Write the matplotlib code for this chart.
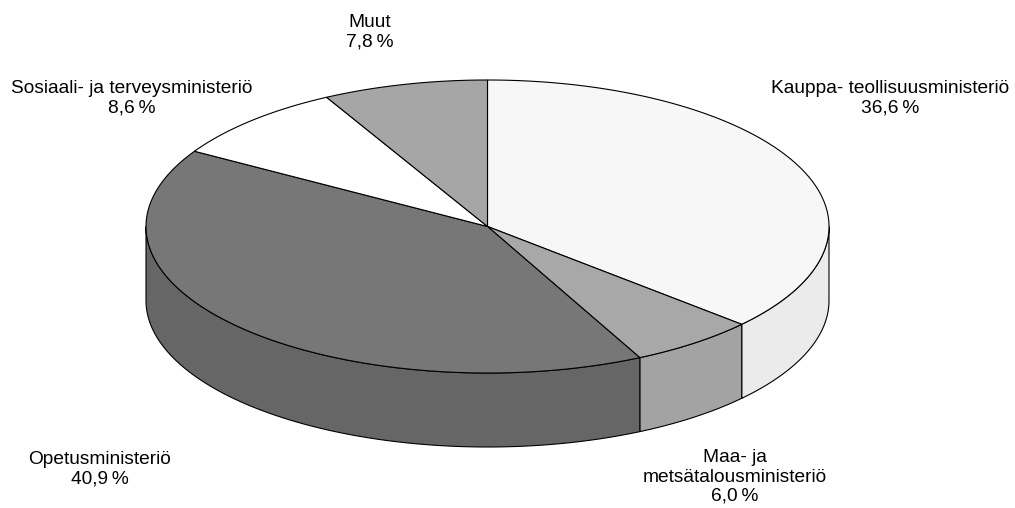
import numpy as np
import matplotlib.pyplot as plt
from matplotlib.patches import Polygon

plt.rcParams['font.family'] = ['Liberation Sans', 'DejaVu Sans']

# data
labels = ['Kauppa- teollisuusministeriö', 'Maa- ja\nmetsätalousministeriö', 'Opetusministeriö',
          'Sosiaali- ja terveysministeriö', 'Muut']
values = [36.6, 6.0, 40.9, 8.6, 7.8]
top_colors = ['#f7f7f7', '#a8a8a8', '#777777', '#ffffff', '#a6a6a6']
side_colors = ['#ebebeb', '#a3a3a3', '#666666', '#f0f0f0', '#9a9a9a']
label_pos = [(890, 98), (735, 477), (100, 469), (132, 98), (370, 32)]

# pie geometry in pixels
cx, cy = 487.5, 226.5
rx, ry = 341.5, 146.5
depth = 74

fig = plt.figure(figsize=(10.15, 5.08), dpi=100)
ax = fig.add_axes([0, 0, 1, 1])
ax.set_xlim(0, 1015)
ax.set_ylim(508, 0)
ax.axis('off')


def arc(t0, t1, n=200):
    t = np.radians(np.linspace(t0, t1, n))
    return np.column_stack([cx + rx * np.cos(t), cy - ry * np.sin(t)])


fracs = np.array(values) / sum(values)
starts = 90 - 360 * np.concatenate([[0], np.cumsum(fracs)[:-1]])
ends = starts - 360 * fracs

# sides (front half: angles between -180 and 0)
for a0, a1, c in zip(starts, ends, side_colors):
    hi = min(a0, 0)
    lo = max(a1, -180)
    if hi <= lo:
        continue
    top = arc(hi, lo)
    bot = top[::-1] + [0, depth]
    ax.add_patch(Polygon(np.vstack([top, bot]), closed=True, facecolor=c,
                         edgecolor='black', linewidth=0.8))

# tops
for a0, a1, c in zip(starts, ends, top_colors):
    pts = np.vstack([[cx, cy], arc(a0, a1)])
    ax.add_patch(Polygon(pts, closed=True, facecolor=c, edgecolor='black', linewidth=0.8))

for lab, v, (x, y) in zip(labels, values, label_pos):
    txt = lab + '\n' + f'{v:.1f}'.replace('.', ',') + '\u2009%'
    ax.text(x, y, txt, ha='center', va='center', fontsize=13.8, linespacing=1.18)

fig.savefig('out.png', dpi=100)
